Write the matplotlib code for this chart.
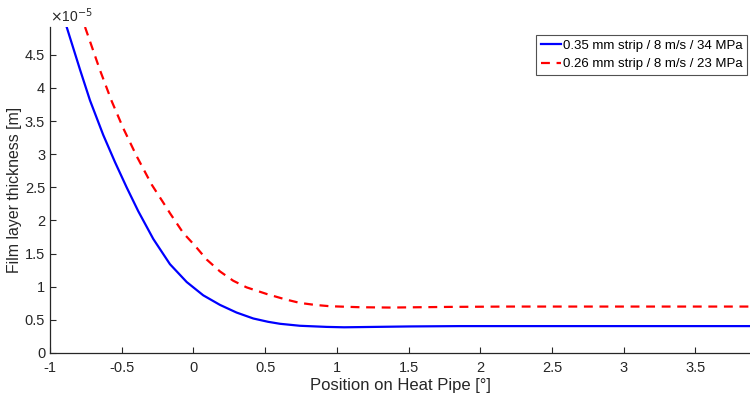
import matplotlib
matplotlib.use("Agg")
import matplotlib.pyplot as plt
from matplotlib.ticker import FuncFormatter, MultipleLocator

# values (y in units of 1e-5 m)
x_thick = [-0.884, -0.79, -0.721, -0.629, -0.547, -0.466, -0.385, -0.28,
           -0.164, -0.047, 0.068, 0.185, 0.30, 0.417, 0.52, 0.603, 0.742, 0.928,
           1.05, 1.16, 1.51, 1.857, 2.2, 2.6, 3.0, 3.5, 3.88]
y_thick = [4.92, 4.27, 3.81, 3.29, 2.88, 2.50, 2.14, 1.72,
           1.34, 1.07, 0.87, 0.725, 0.61, 0.52, 0.47, 0.44, 0.41, 0.393,
           0.387, 0.39, 0.40, 0.405, 0.405, 0.405, 0.405, 0.405, 0.405]

x_thin = [-0.756, -0.652, -0.57, -0.489, -0.396, -0.291, -0.187, -0.164, -0.071,
          0.01, 0.092, 0.185, 0.277, 0.37, 0.51, 0.638, 0.742, 0.847, 0.951,
          1.16, 1.37, 1.58, 1.79, 2.2, 2.6, 3.0, 3.5, 3.88]
y_thin = [4.92, 4.27, 3.80, 3.39, 2.97, 2.54, 2.19, 2.11, 1.81,
          1.62, 1.41, 1.23, 1.09, 0.99, 0.89, 0.81, 0.755, 0.725, 0.705,
          0.69, 0.685, 0.69, 0.695, 0.70, 0.70, 0.70, 0.70, 0.70]

labels = ["0.35 mm strip / 8 m/s / 34 MPa", "0.26 mm strip / 8 m/s / 23 MPa"]

plt.rcParams["font.family"] = ["Liberation Sans", "DejaVu Sans"]
txt = "#262626"

fig = plt.figure(figsize=(7.5, 3.97), dpi=100)
ax = fig.add_axes([0.0667, 0.111, 0.9333, 0.821])

ax.plot(x_thick, y_thick, color="#0000ff", lw=1.6, label=labels[0])
ax.plot(x_thin, y_thin, color="#ff0000", lw=1.6, ls=(0, (4, 3)), label=labels[1])

ax.set_xlim(-1, 3.88)
ax.set_ylim(0, 4.92)
ax.xaxis.set_major_locator(MultipleLocator(0.5))
ax.yaxis.set_major_locator(MultipleLocator(0.5))
fmt = FuncFormatter(lambda v, p: "%g" % v)
ax.xaxis.set_major_formatter(fmt)
ax.yaxis.set_major_formatter(fmt)
ax.tick_params(direction="in", length=4, width=0.8, colors=txt, labelsize=10.5)
ax.tick_params(axis="x", pad=6)

for s in ["top", "right"]:
    ax.spines[s].set_visible(False)
for s in ["left", "bottom"]:
    ax.spines[s].set_color(txt)
    ax.spines[s].set_linewidth(0.9)

ax.set_xlabel("Position on Heat Pipe [°]", fontsize=12, color=txt, labelpad=2)
ax.set_ylabel("Film layer thickness [m]", fontsize=11.4, color=txt, labelpad=2)
ax.text(0.0, 1.005, r"$\times$10$^{-5}$", transform=ax.transAxes, fontsize=10,
        color=txt, ha="left", va="bottom")

leg = ax.legend(loc="upper right", bbox_to_anchor=(0.996, 0.975), fontsize=9.5,
                frameon=True, fancybox=False, handlelength=1.55, handletextpad=0.15,
                borderpad=0.35, labelspacing=0.45, borderaxespad=0)
leg.get_frame().set_edgecolor(txt)
leg.get_frame().set_linewidth(0.8)

fig.savefig("out.png", dpi=100)
